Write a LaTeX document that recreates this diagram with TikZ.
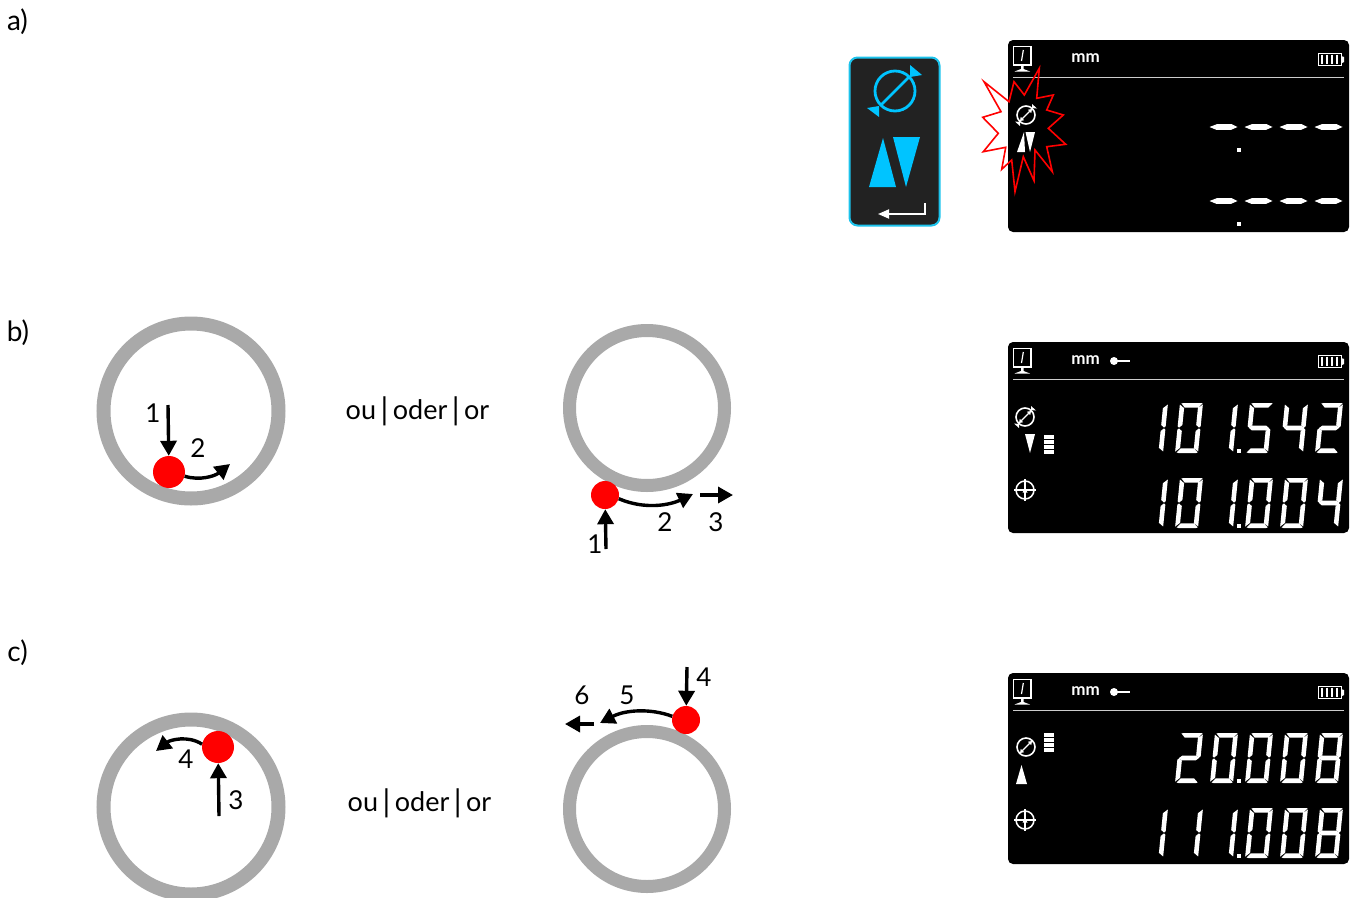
\documentclass[tikz,border=0pt]{standalone}
\usepackage{fontspec}
\setmainfont{Lato}
\usetikzlibrary{arrows.meta}
\definecolor{ringgray}{HTML}{A9A9A9}
\definecolor{btnblue}{HTML}{00C4FF}
\definecolor{btnedge}{HTML}{1CC3EC}
\definecolor{btnfill}{HTML}{222222}
\tikzset{
  ring/.style={draw=ringgray,fill=none},
  reddot/.style={circle,fill=red,inner sep=0pt,minimum size=#1},
  arrowline/.style={draw=black,line width=3.4pt,-{Triangle[length=15pt,width=16pt]}},
  lab/.style={font=\fontsize{26}{28}\selectfont,inner sep=0pt,text=black},
  rowlab/.style={font=\fontsize{28}{30}\selectfont,inner sep=0pt,text=black},
  sep/.style={font=\fontsize{27}{30}\selectfont,inner sep=0pt,text=black},
  icon/.style={draw=white,line width=1.2pt,fill=none},
}
\newcommand\tallbar{\,{\fontsize{31}{30}\selectfont\raisebox{-.5pt}{|}}\,}
% seven-segment pieces (w=23, h=50)
\newcommand\sA{(1.5,.5)--(3.5,0)--(21,0)--(22.6,.5)--(18.6,4.6)--(5.2,4.6)--cycle }
\newcommand\sB{(23,1.5)--(23,23.2)--(21.5,24.6)--(18.4,22)--(18.4,5.2)--cycle }
\newcommand\sC{(23,26.8)--(23,48.5)--(18.4,44.8)--(18.4,28)--(21.5,25.4)--cycle }
\newcommand\sD{(1.5,49.5)--(5.2,45.4)--(18.6,45.4)--(22.6,49.5)--(21,50)--(3.5,50)--cycle }
\newcommand\sE{(0,26.8)--(1.5,25.4)--(4.6,28)--(4.6,44.8)--(0,48.5)--cycle }
\newcommand\sF{(0,1.5)--(4.6,5.2)--(4.6,22)--(1.5,24.6)--(0,23.2)--cycle }
\newcommand\sG{(1.5,25)--(4.6,22.6)--(18.4,22.6)--(21.5,25)--(18.4,27.4)--(4.6,27.4)--cycle }
\newcommand\dZero{\sA\sB\sC\sD\sE\sF}
\newcommand\dOne{\sB\sC}
\newcommand\dTwo{\sA\sB\sG\sE\sD}
\newcommand\dFour{\sF\sG\sB\sC}
\newcommand\dFive{\sA\sF\sG\sC\sD}
\newcommand\dEight{\sA\sB\sC\sD\sE\sF\sG}
\newcommand\dDash{(-3,25)--(4,22.2)--(19,22.2)--(25,25)--(19,27.8)--(4,27.8)--cycle }
\newcommand\digitat[3]{\begin{scope}[shift={(#1,#2)},xslant=0.1]\fill[white] #3;\end{scope}}
\newcommand\dotat[2]{\fill[white] (#1-2,#2-2) rectangle (#1+2,#2+2);}
\newcommand\dispbase[2]{%
  \begin{scope}[shift={(1008,#1)}]
    \fill[black,rounded corners=5pt] (0,0) rectangle (341,#2);
    \draw[white!80!black,line width=.9pt] (5,37) -- (336,37);
    \draw[icon] (5.5,6.5) rectangle (23,25);
    \draw[white,line width=1.2pt] (15.3,10) -- (13.5,21);
    \fill[white] (13,25) -- (15.5,25) -- (15.5,29) -- (22,31.5) -- (6.5,31.5) -- (13,29) -- cycle;
    \node[font=\bfseries\fontsize{17}{17}\selectfont,text=white,inner sep=0pt] (mm#1) at (77.5,18) {mm};
    \draw[white,line width=1pt] (310,13) rectangle (333,25.5);
    \fill[white] (333,16) -- (336,17) -- (336,22) -- (333,23.5) -- cycle;
    \foreach \bx in {314,319,324,329}{\draw[white,line width=1.2pt] (\bx,14.5) -- (\bx,24);}
  \end{scope}}
\newcommand\keyicon[1]{%
  \begin{scope}[shift={(1008,#1)}]
    \fill[white] (106,19) circle (4);
    \draw[white,line width=2.4pt] (106,19) -- (122,19);
  \end{scope}}
\newcommand\diam[3]{% cx cy triangles(1/0)
  \begin{scope}[shift={(#1,#2)}]
    \draw[white,line width=1.6pt] (0,0) circle (9);
    \draw[white,line width=1.1pt,{Triangle[length=3.5pt,width=4.5pt]}-{Triangle[length=3.5pt,width=4.5pt]}] (-6,6) -- (6,-6);
    \ifnum#3=1
      \fill[white] (6,-11) -- (11,-6.5) -- (6,-7) -- cycle;
      \fill[white] (-11,6.5) -- (-6,7) -- (-6,11) -- cycle;
    \fi
  \end{scope}}
\newcommand\crosshair[2]{%
  \begin{scope}[shift={(#1,#2)}]
    \draw[white,line width=1.5pt] (0,0) circle (9);
    \draw[white,line width=1.2pt] (-11,0) -- (11,0) (0,-11) -- (0,11);
    \fill[white] (-2.5,2.5) -- (0,-2) -- (2.5,2.5) -- cycle;
  \end{scope}}
\newcommand\levelbars[2]{%
  \foreach \k in {0,1,2,3}{\fill[white] (#1,#2+\k*5) rectangle (#1+10,#2+\k*5+4.2);}}
\begin{document}
\begin{tikzpicture}[x=1pt,y=-1pt]
\clip (0,0) rectangle (1357,897);
% row labels
\node[rowlab] (la) at (17.5,22) {a)};
\node[rowlab] (lb) at (18,333) {b)};
\node[rowlab] (lc) at (17.5,653) {c)};
% a) button
\draw[draw=btnedge,fill=btnfill,line width=2pt,rounded corners=8pt] (849.5,57.5) rectangle (939.5,225.5);
\draw[btnblue,line width=2.8pt] (895,91) circle (20);
\draw[btnblue,line width=2.8pt] (881,105) -- (909,77);
\fill[btnblue] (910,65) -- (922,75) -- (910,77) -- cycle;
\fill[btnblue] (867,108) -- (879,106) -- (879,117) -- cycle;
\fill[btnblue] (869,187) -- (896,187) -- (883,138) -- cycle;
\fill[btnblue] (893,137) -- (920,137) -- (906,187) -- cycle;
\draw[white,line width=1.8pt,-{Triangle[length=11pt,width=9pt]}] (925,203) -- (925,214) -- (878,214);
% a) display
\dispbase{40}{192}
\diam{1026}{115}{1}
\fill[white] (1017,152) -- (1025,152) -- (1024,132) -- cycle;
\fill[white] (1025.5,132) -- (1035,132) -- (1030,152) -- cycle;
\foreach \cx in {1215,1250,1285,1320}{\digitat{\cx}{102}{\dDash}\digitat{\cx}{176}{\dDash}}
\dotat{1239}{150}
\dotat{1239}{224}
\draw[red,line width=1.6pt,line join=miter] (1039.3,68.3) -- (1036.7,98.3) -- (1053.3,95) -- (1046.7,110) -- (1063.3,115) -- (1048.3,128.3) -- (1065.7,144.3) -- (1046.7,146.7) -- (1052.3,171.7) -- (1035,150) -- (1034,180.7) -- (1023.3,156.7) -- (1015,191.7) -- (1011.7,160) -- (1001.7,169.3) -- (1005.7,147.3) -- (983.3,151.7) -- (998.3,133.3) -- (982.7,117.3) -- (1001,111.7) -- (984,81.7) -- (1009,101.7) -- (1014,81.7) -- (1024.3,95) -- cycle;
% b) rings
\draw[ring,line width=14pt] (191,411) circle (87.5);
\draw[ring,line width=13pt] (647,408) circle (77.5);
\node[reddot=32pt] (dotba) at (169,472) {};
\node[reddot=28pt] (dotbb) at (605,495) {};
\coordinate (sba) at (168,405);
\coordinate (tba) at (230,464);
\draw[arrowline] (sba) -- (dotba);
\draw[arrowline] (dotba.-15) .. controls (200,481) and (215,476) .. (tba);
\node[lab] (n1a) at (153,413) {1};
\node[lab] (n2a) at (198,448) {2};
\node[sep] (orb) at (417.5,411) {ou\tallbar oder\tallbar or};
\coordinate (sbb) at (606,549);
\coordinate (tbb) at (693,494);
\coordinate (sbc) at (700,495);
\coordinate (tbc) at (733,495);
\draw[arrowline] (sbb) -- (dotbb);
\draw[arrowline] (dotbb.-15) .. controls (645,510) and (670,505) .. (tbb);
\draw[arrowline] (sbc) -- (tbc);
\node[lab] (n1b) at (595,544) {1};
\node[lab] (n2b) at (665,522) {2};
\node[lab] (n3b) at (716,522) {3};
% b) display
\dispbase{342}{191}
\keyicon{342}
\diam{1025}{417}{1}
\fill[white] (1025,434) -- (1035,434) -- (1030,453) -- cycle;
\levelbars{1044}{435}
\digitat{1145}{403}{\dOne}\digitat{1180}{403}{\dZero}\digitat{1215}{403}{\dOne}\digitat{1250}{403}{\dFive}\digitat{1285}{403}{\dFour}\digitat{1320}{403}{\dTwo}
\dotat{1239}{451}
\crosshair{1025}{490}
\digitat{1145}{478}{\dOne}\digitat{1180}{478}{\dZero}\digitat{1215}{478}{\dOne}\digitat{1250}{478}{\dZero}\digitat{1285}{478}{\dZero}\digitat{1320}{478}{\dFour}
\dotat{1239}{526}
% c) rings
\draw[ring,line width=14pt] (191,807) circle (87.5);
\draw[ring,line width=13pt] (647,809) circle (77.5);
\node[reddot=32pt] (dotca) at (218,747) {};
\node[reddot=28pt] (dotcb) at (686,720) {};
\coordinate (sca) at (219,816);
\coordinate (tca) at (156,751);
\draw[arrowline] (sca) -- (dotca);
\draw[arrowline] (dotca.170) .. controls (188,735) and (170,740) .. (tca);
\node[lab] (n4c) at (186,759) {4};
\node[lab] (n3c) at (236,800) {3};
\node[sep] (orc) at (419.5,803) {ou\tallbar oder\tallbar or};
\coordinate (scb) at (687,667);
\coordinate (tcb) at (600,723);
\coordinate (scc) at (594,724);
\coordinate (tcc) at (565,724);
\draw[arrowline] (scb) -- (dotcb);
\draw[arrowline] (dotcb.165) .. controls (650,708) and (625,710) .. (tcb);
\draw[arrowline] (scc) -- (tcc);
\node[lab] (n4d) at (704,677) {4};
\node[lab] (n5d) at (627,695) {5};
\node[lab] (n6d) at (582,695) {6};
% c) display
\dispbase{673}{191}
\keyicon{673}
\diam{1026}{747}{0}
\fill[white] (1016,784) -- (1027,784) -- (1021.5,765) -- cycle;
\levelbars{1044}{733}
\digitat{1180}{733}{\dTwo}\digitat{1215}{733}{\dZero}\digitat{1250}{733}{\dZero}\digitat{1285}{733}{\dZero}\digitat{1320}{733}{\dEight}
\dotat{1239}{781}
\crosshair{1025}{820}
\digitat{1145}{808}{\dOne}\digitat{1180}{808}{\dOne}\digitat{1215}{808}{\dOne}\digitat{1250}{808}{\dZero}\digitat{1285}{808}{\dZero}\digitat{1320}{808}{\dEight}
\dotat{1239}{856}
\end{tikzpicture}
\end{document}
